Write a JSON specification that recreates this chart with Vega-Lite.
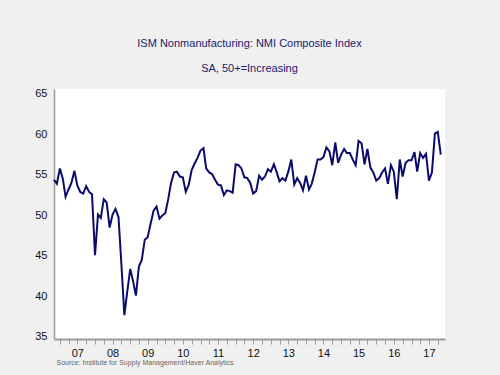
{
  "$schema": "https://vega.github.io/schema/vega-lite/v6.json",
  "width": 391,
  "height": 250,
  "autosize": {"type": "none"},
  "padding": {"left": 54, "top": 89, "right": 55, "bottom": 36},
  "background": "#f0f0f0",
  "view": {"fill": "white", "stroke": null},
  "title": {
    "text": "ISM Nonmanufacturing: NMI Composite Index",
    "subtitle": "SA, 50+=Increasing",
    "font": "Liberation Sans",
    "fontSize": 11,
    "fontWeight": "normal",
    "color": "#1a1a6e",
    "subtitleFont": "Liberation Sans",
    "subtitleFontSize": 11,
    "subtitleColor": "#1a1a6e",
    "subtitlePadding": 14,
    "anchor": "middle",
    "frame": "group",
    "offset": 14
  },
  "data": {
    "format": {"parse": {"d": "date:'%Y-%m'"}},
    "values": [
      {"d": "2006-11", "v": 54.4}, {"d": "2006-12", "v": 53.9},
      {"d": "2007-01", "v": 55.8}, {"d": "2007-02", "v": 54.5}, {"d": "2007-03", "v": 52.3}, {"d": "2007-04", "v": 53.2},
      {"d": "2007-05", "v": 54.0}, {"d": "2007-06", "v": 55.5}, {"d": "2007-07", "v": 53.7}, {"d": "2007-08", "v": 52.9},
      {"d": "2007-09", "v": 52.7}, {"d": "2007-10", "v": 53.6}, {"d": "2007-11", "v": 52.9}, {"d": "2007-12", "v": 52.6},
      {"d": "2008-01", "v": 45.1}, {"d": "2008-02", "v": 50.1}, {"d": "2008-03", "v": 49.7}, {"d": "2008-04", "v": 52.0},
      {"d": "2008-05", "v": 51.6}, {"d": "2008-06", "v": 48.5}, {"d": "2008-07", "v": 50.1}, {"d": "2008-08", "v": 50.8},
      {"d": "2008-09", "v": 49.8}, {"d": "2008-10", "v": 44.0}, {"d": "2008-11", "v": 37.7}, {"d": "2008-12", "v": 40.6},
      {"d": "2009-01", "v": 43.4}, {"d": "2009-02", "v": 41.8}, {"d": "2009-03", "v": 40.1}, {"d": "2009-04", "v": 43.7},
      {"d": "2009-05", "v": 44.5}, {"d": "2009-06", "v": 47.0}, {"d": "2009-07", "v": 47.3}, {"d": "2009-08", "v": 49.0},
      {"d": "2009-09", "v": 50.6}, {"d": "2009-10", "v": 51.1}, {"d": "2009-11", "v": 49.6}, {"d": "2009-12", "v": 50.0},
      {"d": "2010-01", "v": 50.3}, {"d": "2010-02", "v": 52.1}, {"d": "2010-03", "v": 54.0}, {"d": "2010-04", "v": 55.3},
      {"d": "2010-05", "v": 55.4}, {"d": "2010-06", "v": 54.8}, {"d": "2010-07", "v": 54.7}, {"d": "2010-08", "v": 52.9},
      {"d": "2010-09", "v": 53.8}, {"d": "2010-10", "v": 55.6}, {"d": "2010-11", "v": 56.4}, {"d": "2010-12", "v": 57.1},
      {"d": "2011-01", "v": 58.0}, {"d": "2011-02", "v": 58.3}, {"d": "2011-03", "v": 55.8}, {"d": "2011-04", "v": 55.3},
      {"d": "2011-05", "v": 55.1}, {"d": "2011-06", "v": 54.4}, {"d": "2011-07", "v": 53.8}, {"d": "2011-08", "v": 53.7},
      {"d": "2011-09", "v": 52.5}, {"d": "2011-10", "v": 53.1}, {"d": "2011-11", "v": 53.0}, {"d": "2011-12", "v": 52.8},
      {"d": "2012-01", "v": 56.3}, {"d": "2012-02", "v": 56.2}, {"d": "2012-03", "v": 55.8}, {"d": "2012-04", "v": 54.7},
      {"d": "2012-05", "v": 54.6}, {"d": "2012-06", "v": 54.0}, {"d": "2012-07", "v": 52.7}, {"d": "2012-08", "v": 53.0},
      {"d": "2012-09", "v": 54.9}, {"d": "2012-10", "v": 54.4}, {"d": "2012-11", "v": 54.8}, {"d": "2012-12", "v": 55.7},
      {"d": "2013-01", "v": 55.4}, {"d": "2013-02", "v": 56.3}, {"d": "2013-03", "v": 55.4}, {"d": "2013-04", "v": 54.2},
      {"d": "2013-05", "v": 54.6}, {"d": "2013-06", "v": 54.3}, {"d": "2013-07", "v": 55.4}, {"d": "2013-08", "v": 56.9},
      {"d": "2013-09", "v": 53.8}, {"d": "2013-10", "v": 54.6}, {"d": "2013-11", "v": 54.0}, {"d": "2013-12", "v": 53.1},
      {"d": "2014-01", "v": 54.9}, {"d": "2014-02", "v": 53.2}, {"d": "2014-03", "v": 53.9}, {"d": "2014-04", "v": 55.3},
      {"d": "2014-05", "v": 56.9}, {"d": "2014-06", "v": 56.9}, {"d": "2014-07", "v": 57.2}, {"d": "2014-08", "v": 58.4},
      {"d": "2014-09", "v": 57.9}, {"d": "2014-10", "v": 56.2}, {"d": "2014-11", "v": 59.0}, {"d": "2014-12", "v": 56.5},
      {"d": "2015-01", "v": 57.5}, {"d": "2015-02", "v": 58.2}, {"d": "2015-03", "v": 57.7}, {"d": "2015-04", "v": 57.7},
      {"d": "2015-05", "v": 56.9}, {"d": "2015-06", "v": 56.2}, {"d": "2015-07", "v": 59.2}, {"d": "2015-08", "v": 58.9},
      {"d": "2015-09", "v": 56.3}, {"d": "2015-10", "v": 58.2}, {"d": "2015-11", "v": 55.9}, {"d": "2015-12", "v": 55.3},
      {"d": "2016-01", "v": 54.3}, {"d": "2016-02", "v": 54.6}, {"d": "2016-03", "v": 55.3}, {"d": "2016-04", "v": 55.8},
      {"d": "2016-05", "v": 53.9}, {"d": "2016-06", "v": 56.2}, {"d": "2016-07", "v": 55.4}, {"d": "2016-08", "v": 52.0},
      {"d": "2016-09", "v": 56.9}, {"d": "2016-10", "v": 54.8}, {"d": "2016-11", "v": 56.5}, {"d": "2016-12", "v": 56.8},
      {"d": "2017-01", "v": 56.8}, {"d": "2017-02", "v": 57.8}, {"d": "2017-03", "v": 55.4}, {"d": "2017-04", "v": 57.7},
      {"d": "2017-05", "v": 57.1}, {"d": "2017-06", "v": 57.6}, {"d": "2017-07", "v": 54.3}, {"d": "2017-08", "v": 55.3},
      {"d": "2017-09", "v": 60.1}, {"d": "2017-10", "v": 60.3}, {"d": "2017-11", "v": 57.5}
    ]
  },
  "mark": {"type": "line", "color": "#0b0b6b", "strokeWidth": 2},
  "encoding": {
    "x": {
      "field": "d",
      "type": "temporal",
      "scale": {"domain": [{"year": 2006, "month": 11, "date": 1}, {"year": 2017, "month": 12, "date": 15}]},
      "axis": {
        "title": "Source:  Institute for Supply Management/Haver Analytics",
        "titleFont": "Liberation Sans",
        "titleFontSize": 7,
        "titleFontWeight": "normal",
        "titleColor": "#666666",
        "titleAnchor": "start",
        "titleAlign": "left",
        "titleX": 2,
        "titlePadding": 0,
        "tickCount": {"interval": "month", "step": 3},
        "labelExpr": "month(datum.value) == 6 ? timeFormat(datum.value, '%y') : ''",
        "labelOverlap": false,
        "labelFlush": false,
        "grid": false,
        "domainColor": "#9a9a9a",
        "domainWidth": 2,
        "tickColor": "#9a9a9a",
        "tickSize": 5,
        "tickWidth": 1,
        "labelFont": "Liberation Sans",
        "labelFontSize": 11,
        "labelColor": "#111111",
        "labelPadding": 3
      }
    },
    "y": {
      "field": "v",
      "type": "quantitative",
      "scale": {"domain": [34.75, 65.6], "nice": false, "zero": false},
      "axis": {
        "values": [35, 40, 45, 50, 55, 60, 65],
        "title": null,
        "grid": false,
        "ticks": false,
        "domainColor": "#9a9a9a",
        "domainWidth": 1.5,
        "labelFont": "Liberation Sans",
        "labelFontSize": 11,
        "labelColor": "#111111",
        "labelPadding": 7
      }
    }
  }
}
